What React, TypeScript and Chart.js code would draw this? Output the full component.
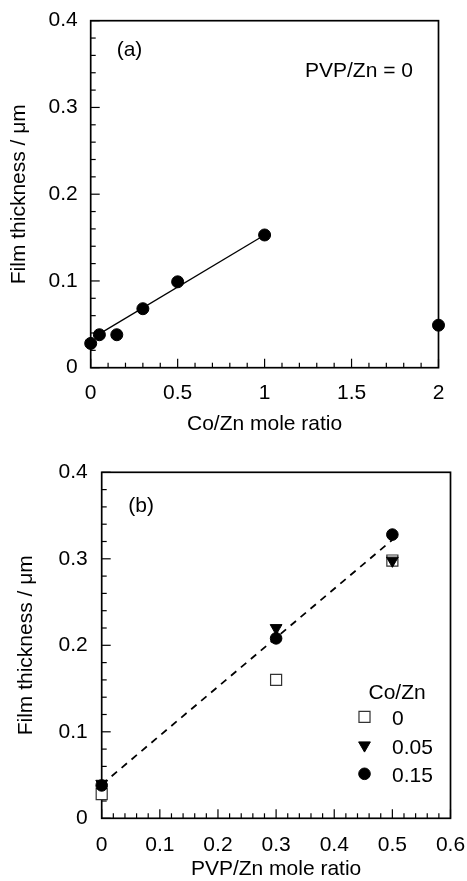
import React, { useEffect, useRef } from 'react';
import { Chart, registerables } from 'chart.js';
import { drawPoint } from 'chart.js/helpers';

Chart.register(...registerables);

const FONT = "'Liberation Sans', Arial, Helvetica, sans-serif";

// ---------- Panel (a) ----------
const coZnRatioA = [0, 0.05, 0.15, 0.3, 0.5, 1, 2];
const thicknessA = [0.028, 0.038, 0.038, 0.068, 0.099, 0.153, 0.049];
const fitLineAX = [0.05, 1];
const fitLineAY = [0.039, 0.153];
const xTickLabelsA = [0, 0.5, 1, 1.5, 2];
const yTickLabels = [0, 0.1, 0.2, 0.3, 0.4];
const xTitleA = 'Co/Zn mole ratio';
const yTitle = 'Film thickness / μm';
const panelLabelA = '(a)';
const conditionA = 'PVP/Zn = 0';

// ---------- Panel (b) ----------
const pvpRatioB = [0, 0.3, 0.5];
const coZnLevels = ['0', '0.05', '0.15'];
const thicknessBCo0 = [0.028, 0.16, 0.298];
const thicknessBCo005 = [0.04, 0.22, 0.298];
const thicknessBCo015 = [0.038, 0.208, 0.328];
const fitLineBX = [0, 0.5];
const fitLineBY = [0.039, 0.322];
const xTickLabelsB = [0, 0.1, 0.2, 0.3, 0.4, 0.5, 0.6];
const xTitleB = 'PVP/Zn mole ratio';
const panelLabelB = '(b)';
const legendTitleB = 'Co/Zn';

const toXY = (xs: number[], ys: number[]) => xs.map((x, i) => ({ x, y: ys[i] }));

// Frame + inward major/minor tick marks, positioned through the chart's scales
const frameTicksPlugin = {
  id: 'frameTicks',
  beforeDatasetsDraw(chart: any, _args: any, opts: any) {
    const { ctx, chartArea: ca, scales } = chart;
    const xs = scales.x;
    const ys = scales.y;
    const eps = 1e-7;
    ctx.save();
    ctx.strokeStyle = '#000';
    ctx.lineWidth = 1.2;
    const isMajor = (v: number, step: number) => Math.abs(v / step - Math.round(v / step)) < 1e-6;
    for (let i = 0; ; i++) {
      const v = xs.min + i * opts.xMinor;
      if (v > xs.max + eps) break;
      const px = xs.getPixelForValue(v);
      const len = isMajor(v, opts.xMajor) ? 9 : 5;
      ctx.beginPath();
      ctx.moveTo(px, ca.bottom);
      ctx.lineTo(px, ca.bottom - len);
      ctx.stroke();
    }
    for (let i = 0; ; i++) {
      const v = ys.min + i * opts.yMinor;
      if (v > ys.max + eps) break;
      const py = ys.getPixelForValue(v);
      const len = isMajor(v, opts.yMajor) ? 9 : 5;
      ctx.beginPath();
      ctx.moveTo(ca.left, py);
      ctx.lineTo(ca.left + len, py);
      ctx.stroke();
    }
    ctx.lineWidth = 1.7;
    ctx.strokeRect(ca.left, ca.top, ca.right - ca.left, ca.bottom - ca.top);
    ctx.restore();
  },
};

// Text annotations placed relative to the chart area
const annotationPlugin = {
  id: 'panelText',
  afterDatasetsDraw(chart: any, _args: any, opts: any) {
    const { ctx, chartArea: ca } = chart;
    ctx.save();
    ctx.fillStyle = '#000';
    ctx.font = `21px ${FONT}`;
    ctx.textBaseline = 'middle';
    ctx.textAlign = 'left';
    (opts.items || []).forEach((it: any) => {
      ctx.fillText(it.text, ca.left + it.dx, ca.top + it.dy);
    });
    ctx.restore();
  },
};

// Legend in the lower right of panel (b), using each dataset's own point style
const insideLegendPlugin = {
  id: 'insideLegend',
  afterDatasetsDraw(chart: any, _args: any, opts: any) {
    if (!opts.enabled) return;
    const { ctx, chartArea: ca } = chart;
    ctx.save();
    ctx.font = `21px ${FONT}`;
    ctx.textBaseline = 'middle';
    ctx.textAlign = 'left';
    ctx.fillStyle = '#000';
    ctx.fillText(opts.title, ca.right - 82, ca.top + 221);
    let row = 0;
    chart.data.datasets.forEach((ds: any) => {
      if (ds.isFit) return;
      const my = ca.top + 244.5 + row * 28.5;
      const mx = ca.right - 86;
      ctx.fillStyle = ds.backgroundColor;
      ctx.strokeStyle = ds.borderColor;
      ctx.lineWidth = ds.borderWidth;
      drawPoint(ctx, {
        pointStyle: ds.pointStyle,
        rotation: ds.pointRotation || 0,
        radius: ds.pointRadius,
        borderWidth: ds.borderWidth,
      }, mx, my);
      ctx.fillStyle = '#000';
      ctx.fillText(ds.label, ca.right - 58.5, my + 2.5);
      row++;
    });
    ctx.restore();
  },
};

function makeScales(p: any) {
  const tickFont = { family: FONT, size: 21, lineHeight: 1 };
  return {
    x: {
      type: 'linear',
      min: p.xMin,
      max: p.xMax,
      grid: { display: false, drawTicks: false },
      border: { display: false },
      afterBuildTicks: (s: any) => {
        s.ticks = p.xTicks.map((v: number) => ({ value: v }));
      },
      afterFit: (s: any) => {
        s.height = p.xHeight;
        s.paddingLeft = 0;
        s.paddingRight = 0;
      },
      ticks: {
        color: '#000',
        font: tickFont,
        padding: p.xTickPad,
        maxRotation: 0,
        autoSkip: false,
        callback: (v: any) => String(v),
      },
      title: {
        display: true,
        text: p.xTitle,
        color: '#000',
        font: { family: FONT, size: 21, lineHeight: 1 },
        padding: { top: 0, bottom: p.xTitlePad },
      },
    },
    y: {
      type: 'linear',
      min: 0,
      max: 0.4,
      grid: { display: false, drawTicks: false },
      border: { display: false },
      afterBuildTicks: (s: any) => {
        s.ticks = yTickLabels.map((v: number) => ({ value: v }));
      },
      afterFit: (s: any) => {
        s.width = p.yWidth;
        s.paddingTop = 0;
        s.paddingBottom = 0;
      },
      ticks: {
        color: '#000',
        font: tickFont,
        padding: p.yTickPad,
        autoSkip: false,
        callback: (v: any) => String(v),
      },
      title: {
        display: true,
        text: yTitle,
        color: '#000',
        font: { family: FONT, size: 21, lineHeight: 1 },
        padding: { top: p.yTitlePad, bottom: 0 },
      },
    },
  };
}

function configA(): any {
  return {
    type: 'scatter',
    data: {
      datasets: [
        {
          label: 'PVP/Zn = 0',
          data: toXY(coZnRatioA, thicknessA),
          pointStyle: 'circle',
          pointRadius: 6,
          pointHoverRadius: 6,
          backgroundColor: '#000',
          borderColor: '#000',
          borderWidth: 1,
          clip: false,
          order: 0,
        },
        {
          label: 'fit',
          isFit: true,
          data: toXY(fitLineAX, fitLineAY),
          showLine: true,
          pointRadius: 0,
          borderColor: '#000',
          borderWidth: 1.3,
          backgroundColor: '#000',
          clip: false,
          order: 1,
        },
      ],
    },
    options: {
      responsive: false,
      animation: false,
      devicePixelRatio: 1,
      layout: { padding: { left: 0, right: 28.5, top: 20.7, bottom: 0 } },
      plugins: {
        legend: { display: false },
        tooltip: { enabled: false },
        frameTicks: { xMinor: 0.1, xMajor: 0.5, yMinor: 0.02, yMajor: 0.1 },
        panelText: {
          items: [
            { text: panelLabelA, dx: 26, dy: 29.3 },
            { text: conditionA, dx: 214.3, dy: 51 },
          ],
        },
        insideLegend: { enabled: false },
      },
      scales: makeScales({
        xMin: 0,
        xMax: 2,
        xTicks: xTickLabelsA,
        xTitle: xTitleA,
        xHeight: 72.3,
        xTickPad: 15,
        xTitlePad: 5.5,
        yWidth: 90.7,
        yTickPad: 13,
        yTitlePad: 9,
      }),
    },
    plugins: [frameTicksPlugin, annotationPlugin, insideLegendPlugin],
  };
}

function configB(): any {
  return {
    type: 'scatter',
    data: {
      datasets: [
        {
          label: coZnLevels[0],
          data: toXY(pvpRatioB, thicknessBCo0),
          pointStyle: 'rect',
          pointRadius: 7.8,
          pointHoverRadius: 7.8,
          backgroundColor: '#fff',
          borderColor: '#333',
          borderWidth: 1.2,
          clip: false,
          order: 2,
        },
        {
          label: coZnLevels[1],
          data: toXY(pvpRatioB, thicknessBCo005),
          pointStyle: 'triangle',
          pointRotation: 180,
          rotation: 180,
          pointRadius: 6.8,
          pointHoverRadius: 6.8,
          backgroundColor: '#000',
          borderColor: '#000',
          borderWidth: 1,
          clip: false,
          order: 1,
        },
        {
          label: coZnLevels[2],
          data: toXY(pvpRatioB, thicknessBCo015),
          pointStyle: 'circle',
          pointRadius: 5.8,
          pointHoverRadius: 5.8,
          backgroundColor: '#000',
          borderColor: '#000',
          borderWidth: 1,
          clip: false,
          order: 0,
        },
        {
          label: 'fit',
          isFit: true,
          data: toXY(fitLineBX, fitLineBY),
          showLine: true,
          pointRadius: 0,
          borderColor: '#000',
          borderWidth: 1.8,
          borderDash: [7, 6],
          backgroundColor: '#000',
          clip: false,
          order: 3,
        },
      ],
    },
    options: {
      responsive: false,
      animation: false,
      devicePixelRatio: 1,
      layout: { padding: { left: 0, right: 16.5, top: 32.3, bottom: 0 } },
      plugins: {
        legend: { display: false },
        tooltip: { enabled: false },
        frameTicks: { xMinor: 0.02, xMajor: 0.1, yMinor: 0.02, yMajor: 0.1 },
        panelText: {
          items: [{ text: panelLabelB, dx: 26.6, dy: 34.4 }],
        },
        insideLegend: { enabled: true, title: legendTitleB },
      },
      scales: makeScales({
        xMin: 0,
        xMax: 0.6,
        xTicks: xTickLabelsB,
        xTitle: xTitleB,
        xHeight: 62.7,
        xTickPad: 16,
        xTitlePad: 1.5,
        yWidth: 101.7,
        yTickPad: 14,
        yTitlePad: 15.5,
      }),
    },
    plugins: [frameTicksPlugin, annotationPlugin, insideLegendPlugin],
  };
}

function ChartPanel({ makeConfig, width, height, top }: any) {
  const ref = useRef<HTMLCanvasElement | null>(null);
  useEffect(() => {
    if (!ref.current) return;
    const chart = new Chart(ref.current, makeConfig());
    return () => chart.destroy();
  }, []);
  return (
    <canvas
      ref={ref}
      width={width}
      height={height}
      style={{ position: 'absolute', left: 0, top, width, height, display: 'block' }}
    />
  );
}

export default function App() {
  return (
    <div
      style={{
        position: 'fixed',
        left: 0,
        top: 0,
        width: 467,
        height: 881,
        overflow: 'hidden',
        background: '#fff',
      }}
    >
      <ChartPanel makeConfig={configA} width={467} height={440} top={0} />
      <ChartPanel makeConfig={configB} width={467} height={441} top={440} />
    </div>
  );
}
